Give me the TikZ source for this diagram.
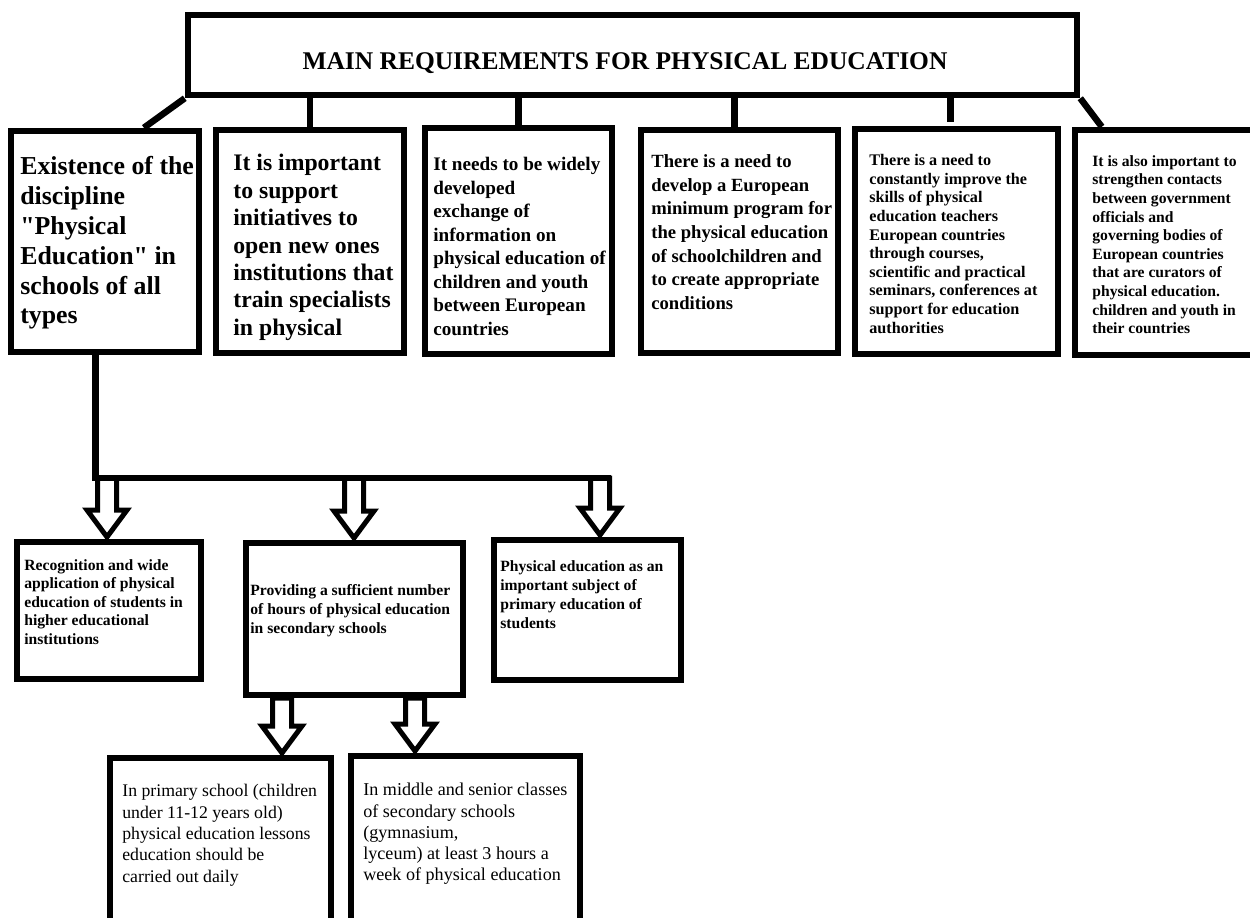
\documentclass[tikz,border=0pt]{standalone}
\usepackage{fontspec}
\setmainfont{Liberation Serif}
% a family without the TeX ligature mapping, so " stays a straight quote
\newfontfamily\lserif{Liberation Serif}
\usetikzlibrary{fit,calc}

% 1 unit = 0.02cm; y grows downward
\tikzset{
  box/.style={draw=black, line width=0.13cm, inner sep=0pt},
  smallbox/.style={draw=black, line width=0.12cm, inner sep=0pt},
  conn/.style={draw=black, line width=0.13cm},
  hollowarrow/.style={draw=black, line width=0.1cm, line join=miter},
  txt/.style={anchor=north west, inner sep=0pt, align=left, text=black},
}

% hollow block arrow pointing down: #1 = start on the bus, #2 = tip
\newcommand\hollowdown[2]{%
  \draw[hollowarrow] ($(#1)+(-9.5,0)$) -- ($(#1)+(9.5,0)$)
    -- ($(#2)+(9.5,-27)$) -- ($(#2)+(20,-27)$) -- (#2)
    -- ($(#2)+(-20,-27)$) -- ($(#2)+(-9.5,-27)$) -- cycle;}

\begin{document}
\begin{tikzpicture}[x=0.02cm, y=-0.02cm]
\useasboundingbox (0,0) rectangle (1250,917);
\fill[white] (0,0) rectangle (1250,917);
\clip (0,0) rectangle (1250,917);

% ---- title ----
\node[box, fit={(188,15) (1077,95)}] (title) {};
\node[anchor=base, inner sep=0pt, font=\lserif\fontsize{14.5}{17}\selectfont\bfseries] (tt) at (625,69)
  {MAIN REQUIREMENTS FOR PHYSICAL EDUCATION};

% ---- first row of requirements ----
\node[box, fit={(11,131) (199,352)}] (b1) {};
\node[box, fit={(216,130) (404,353)}] (b2) {};
\node[box, fit={(425,128) (612,354)}] (b3) {};
\node[box, fit={(641,130) (838,353)}] (b4) {};
\node[box, fit={(855,129) (1058,354)}] (b5) {};
\node[box, fit={(1075,130) (1262,355)}] (b6) {};

\node[txt, font=\lserif\fontsize{14.7}{17}\selectfont\bfseries] (t1) at (20,156)
  {Existence of the\\discipline\\"Physical\\Education" in\\schools of all\\types};
\node[txt, font=\lserif\fontsize{13.5}{15.6}\selectfont\bfseries] (t2) at (233,154)
  {It is important\\to support\\initiatives to\\open new ones\\institutions that\\train specialists\\in physical};
\node[txt, font=\lserif\fontsize{10.9}{13.4}\selectfont\bfseries] (t3) at (433,157)
  {It needs to be widely\\developed\\exchange of\\information on\\physical education of\\children and youth\\between European\\countries};
\node[txt, font=\lserif\fontsize{10.6}{13.5}\selectfont\bfseries] (t4) at (651,154)
  {There is a need to\\develop a European\\minimum program for\\the physical education\\of schoolchildren and\\to create appropriate\\conditions};
\node[txt, font=\lserif\fontsize{9.2}{10.6}\selectfont\bfseries] (t5) at (869,154)
  {There is a need to\\constantly improve the\\skills of physical\\education teachers\\European countries\\through courses,\\scientific and practical\\seminars, conferences at\\support for education\\authorities};
\node[txt, font=\lserif\fontsize{8.9}{10.6}\selectfont\bfseries] (t6) at (1092,155)
  {It is also important to\\strengthen contacts\\between government\\officials and\\governing bodies of\\European countries\\that are curators of\\physical education.\\children and youth in\\their countries};

% ---- connectors from the title ----
\draw[conn] (title.south west) -- ($(b1.north west)!0.7!(b1.north east)$);
\draw[conn] (b2.north) -- (b2.north |- title.south);
\draw[conn] (b3.north) -- (b3.north |- title.south);
\coordinate (c4) at ($(b4.north)+(-5,4)$);
\draw[conn] (c4) -- (c4 |- title.south);
\coordinate (c5) at ($(b5.north)+(-6,-4)$);
\draw[conn] (c5) -- (c5 |- title.south);
\draw[conn] (title.south east) -- ($(b6.north west)+(30,0)$);

% ---- second level ----
\node[smallbox, fit={(17,542) (201,679)}] (bA) {};
\node[smallbox, fit={(245.5,543) (463,695)}] (bB) {};
\node[smallbox, fit={(493.5,540) (681,680)}] (bC) {};

\node[txt, font=\lserif\fontsize{8.9}{10.5}\selectfont\bfseries] (tA) at (24,559)
  {Recognition and wide\\application of physical\\education of students in\\higher educational\\institutions};
\node[txt, font=\lserif\fontsize{8.9}{10.8}\selectfont\bfseries] (tB) at (250,584)
  {Providing a sufficient number\\of hours of physical education\\in secondary schools};
\node[txt, font=\lserif\fontsize{8.9}{10.9}\selectfont\bfseries] (tC) at (500,560)
  {Physical education as an\\important subject of\\primary education of\\students};

% bus from the first requirement
\coordinate (d0) at ($(b1.south west)!0.45!(b1.south east)$);
\coordinate (a1s) at (107,478);
\coordinate (a2s) at (354,478);
\coordinate (a3s) at (600,478);
\coordinate (busL) at (d0 |- a1s);
\coordinate (busR) at (611,478);
\coordinate (a1e) at ($(a1s |- bA.north)+(0,-2)$);
\coordinate (a2e) at ($(a2s |- bB.north)+(0,-2)$);
\coordinate (a3e) at ($(a3s |- bC.north)+(0,-2)$);
\hollowdown{a1s}{a1e}
\hollowdown{a2s}{a2e}
\hollowdown{a3s}{a3e}
\draw[conn, line join=miter] (d0) -- (busL) -- (busR);

% ---- third level ----
\node[smallbox, fit={(110,758) (331,940)}] (bD) {};
\node[smallbox, fit={(351,756) (580,940)}] (bE) {};

\node[txt, font=\lserif\fontsize{10.1}{12.2}\selectfont] (tD) at (122,784)
  {In primary school (children\\under 11-12 years old)\\physical education lessons\\education should be\\carried out daily};
\node[txt, font=\lserif\fontsize{10.3}{12.05}\selectfont] (tE) at (363,783)
  {In middle and senior classes\\of secondary schools\\(gymnasium,\\lyceum) at least 3 hours a\\week of physical education};

\coordinate (a4s) at (282,698);
\coordinate (a5s) at (415,698);
\coordinate (a4e) at ($(a4s |- bD.north)+(0,-2)$);
\coordinate (a5e) at ($(a5s |- bE.north)+(0,-2)$);
\hollowdown{a4s}{a4e}
\hollowdown{a5s}{a5e}
\end{tikzpicture}
\end{document}
